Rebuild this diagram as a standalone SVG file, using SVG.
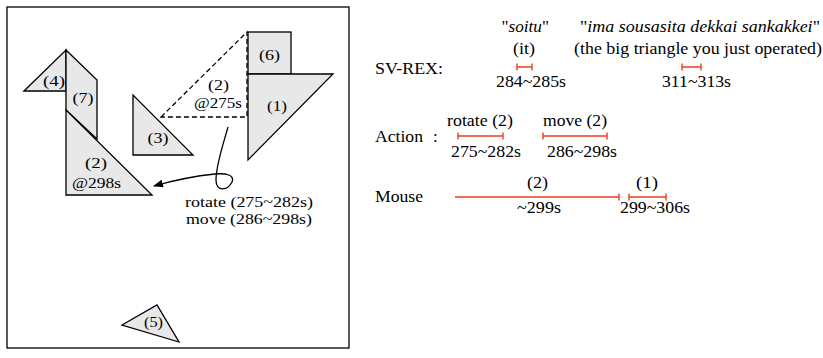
<svg xmlns="http://www.w3.org/2000/svg" width="823" height="358" viewBox="0 0 823 358">
<defs>
<style>
text{font-family:"Liberation Serif",serif;font-size:15px;fill:#000}
.r{font-size:17px}
.c{text-anchor:middle}
.p{fill:#e8e8e8;stroke:#000;stroke-width:1.3;stroke-linejoin:miter}
.d{fill:none;stroke:#000;stroke-width:1.3;stroke-dasharray:5,3}
.bar{stroke:#f23c1e;stroke-width:1.4;fill:none}
.cn{fill:none;stroke:#000;stroke-width:1.3}
</style>
<marker id="ah" markerWidth="10" markerHeight="8" refX="9" refY="4" orient="auto" markerUnits="userSpaceOnUse">
<path d="M0,0 L10,4 L0,8 Z" fill="#000"/>
</marker>
</defs>
<rect width="823" height="358" fill="#fff"/>
<rect id="board" x="7" y="7" width="342" height="341" fill="none" stroke="#000" stroke-width="1.3"/>

<g id="piece4"><polygon class="p" points="24,91 66,50 66,91"/><text class="c" x="54" y="86" textLength="22" lengthAdjust="spacingAndGlyphs">(4)</text></g>
<g id="piece7"><polygon class="p" points="66,50 97,80 97,139 66,110"/><text class="c" x="83" y="103" textLength="21" lengthAdjust="spacingAndGlyphs">(7)</text></g>
<g id="piece2new"><polygon class="p" points="66,110 66,195 152,195"/><text class="c" x="96" y="168" textLength="22" lengthAdjust="spacingAndGlyphs">(2)</text><text class="c" x="96.5" y="188" textLength="49" lengthAdjust="spacingAndGlyphs">@298s</text></g>
<g id="piece3"><polygon class="p" points="133,95 133,155 193,155"/><text class="c" x="158" y="143" textLength="21" lengthAdjust="spacingAndGlyphs">(3)</text></g>
<g id="piece2old"><polygon class="d" points="161,117 247,32 247,117"/><text class="c" x="218.5" y="90" textLength="21" lengthAdjust="spacingAndGlyphs">(2)</text><text class="c" x="218" y="108" textLength="48" lengthAdjust="spacingAndGlyphs">@275s</text></g>
<g id="piece6"><rect class="p" x="248" y="32" width="43" height="42"/><text class="c" x="269.5" y="60" textLength="21" lengthAdjust="spacingAndGlyphs">(6)</text></g>
<g id="piece1"><polygon class="p" points="248,74 333,74 248,160"/><text class="c" x="277" y="111" textLength="20" lengthAdjust="spacingAndGlyphs">(1)</text></g>
<g id="piece5"><polygon class="p" points="122,325 157,305 179,342"/><text class="c" x="153.5" y="327" textLength="19" lengthAdjust="spacingAndGlyphs">(5)</text></g>

<g id="connectors">
<path class="cn" d="M228,127 C223,145 216,165 216,180 C216,193 228,190 232,182 C235,175 226,173 215,174 C195,176 175,180 154,186" marker-end="url(#ah)"/>
</g>

<g id="ops-label">
<text class="c" x="249" y="207" textLength="128" lengthAdjust="spacingAndGlyphs">rotate (275~282s)</text>
<text class="c" x="249" y="224" textLength="126" lengthAdjust="spacingAndGlyphs">move (286~298s)</text>
</g>

<g id="svrex">
<text class="r" x="375" y="74" textLength="68" lengthAdjust="spacingAndGlyphs">SV-REX:</text>
<text class="r" x="501.5" y="32" textLength="47.5" lengthAdjust="spacingAndGlyphs">"<tspan font-style="italic">soitu</tspan>"</text>
<text class="r c" x="524" y="54" textLength="22" lengthAdjust="spacingAndGlyphs">(it)</text>
<path class="bar" d="M517,67 H532 M517,63.5 V70.5 M532,63.5 V70.5"/>
<text class="r c" x="531" y="87" textLength="70" lengthAdjust="spacingAndGlyphs">284~285s</text>
<text class="r" x="580" y="32" textLength="240" lengthAdjust="spacingAndGlyphs">"<tspan font-style="italic">ima sousasita dekkai sankakkei</tspan>"</text>
<text class="r" x="574" y="54" textLength="248" lengthAdjust="spacingAndGlyphs">(the big triangle you just operated)</text>
<path class="bar" d="M682,67 H701 M682,63.5 V70.5 M701,63.5 V70.5"/>
<text class="r c" x="696.5" y="87" textLength="69" lengthAdjust="spacingAndGlyphs">311~313s</text>
</g>

<g id="action">
<text class="r" x="375" y="142" textLength="48" lengthAdjust="spacingAndGlyphs">Action</text>
<text class="r" x="433" y="142">:</text>
<text class="r c" x="480" y="126" textLength="66" lengthAdjust="spacingAndGlyphs">rotate (2)</text>
<path class="bar" d="M458,136 H503 M458,132.5 V139.5 M503,132.5 V139.5"/>
<text class="r c" x="486" y="157" textLength="70" lengthAdjust="spacingAndGlyphs">275~282s</text>
<text class="r c" x="575" y="126" textLength="64" lengthAdjust="spacingAndGlyphs">move (2)</text>
<path class="bar" d="M543,136 H607 M543,132.5 V139.5 M607,132.5 V139.5"/>
<text class="r c" x="582" y="157" textLength="70" lengthAdjust="spacingAndGlyphs">286~298s</text>
</g>

<g id="mouse">
<text class="r" x="375" y="202" textLength="48" lengthAdjust="spacingAndGlyphs">Mouse</text>
<text class="r c" x="537.5" y="188" textLength="21" lengthAdjust="spacingAndGlyphs">(2)</text>
<path class="bar" d="M455,197 H619 M619,193.5 V200.5"/>
<text class="r c" x="539" y="213" textLength="44" lengthAdjust="spacingAndGlyphs">~299s</text>
<text class="r c" x="647" y="188" textLength="22" lengthAdjust="spacingAndGlyphs">(1)</text>
<path class="bar" d="M629,197 H666 M629,193.5 V200.5 M666,193.5 V200.5"/>
<text class="r c" x="655" y="213" textLength="70" lengthAdjust="spacingAndGlyphs">299~306s</text>
</g>
</svg>
